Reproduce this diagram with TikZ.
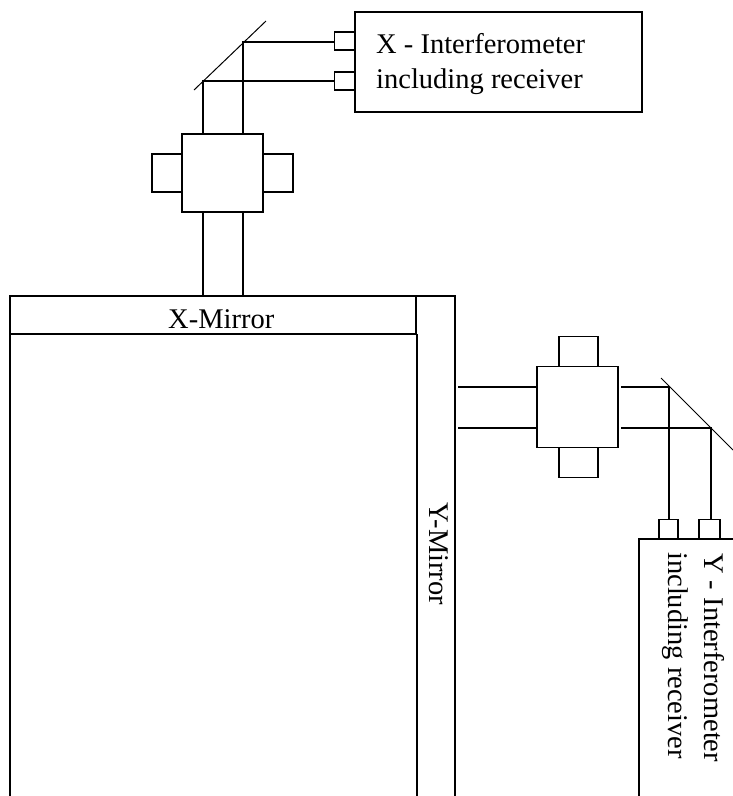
\documentclass[tikz,border=0pt]{standalone}
\usepackage{fontspec}
\setmainfont{Liberation Serif}
\usepackage{tikz}
\usetikzlibrary{positioning,calc}
\tikzset{
  part/.style={draw,line width=1.5pt,fill=white,inner sep=0pt,outer sep=0pt,minimum width=#1},
  part/.default=20pt,
  beam/.style={line width=1.5pt},
  mirrorline/.style={line width=1pt},
  caption/.style={inner sep=0pt,anchor=base west,font=\fontsize{28.5}{32}\selectfont}
}
\begin{document}
\begin{tikzpicture}[x=1pt,y=-1pt]
  \useasboundingbox (0,0) rectangle (733,796);
  \clip (0,0) rectangle (733,796);
  % x arm
  \coordinate (xhitb) at (203,81);
  \coordinate (xhita) at (243,42);
  \coordinate (xtipa) at (194,90);
  \coordinate (xtipb) at (266,21);
  \node[part=287pt,minimum height=100pt] (xbox) at (498.5,62) {};
  \node[part=20pt,minimum height=18pt] (xporta) at (344.5,41) {};
  \node[part=20pt,minimum height=18pt] (xportb) at (344.5,81) {};
  \node[part=81pt,minimum height=78pt] (xcube) at (222.5,173) {};
  \node[part=30pt,minimum height=38pt] (xleft) at (167,173) {};
  \node[part=30pt,minimum height=38pt] (xright) at (278,173) {};
  \draw[mirrorline] (xtipa) -- (xtipb);
  \draw[beam] (xporta.west |- xhita) -- (xhita) -- (xhita |- xcube.north);
  \draw[beam] (xportb.west |- xhitb) -- (xhitb) -- (xhitb |- xcube.north);
  \node[caption] (xname) at (376,53) {X - Interferometer};
  \node[caption] (xrecv) at (376,88) {including receiver};
  % mirrors
  \node[part=406pt,minimum height=38pt] (xmirror) at (213,315) {};
  \node[caption] (xlabel) at (168,328) {X-Mirror};
  \draw[line width=1.5pt] (10,796) -- (xmirror.north west);
  \draw[line width=1.5pt] (xmirror.north east) -- (455,296) -- (455,796);
  \draw[line width=1.5pt] (417,334) -- (417,796);
  \draw[line width=2.2pt] (xmirror.north east) -- (xmirror.south east);
  \node[caption,rotate=-90] (ymirror) at (429,502) {Y-Mirror};
  \draw[beam] (xcube.south -| xhitb) -- (xhitb |- xmirror.north);
  \draw[beam] (xcube.south -| xhita) -- (xhita |- xmirror.north);
  % y arm
  \coordinate (yhita) at (669,387);
  \coordinate (yhitb) at (711,428);
  \coordinate (ytipa) at (661,378);
  \coordinate (ytipb) at (733,450);
  \coordinate (yfeeda) at (458,387);
  \coordinate (yfeedb) at (458,428);
  \coordinate (yexita) at (621,387);
  \coordinate (yexitb) at (621,428);
  \node[part=81pt,minimum height=81pt] (ycube) at (577.5,407) {};
  \node[part=39pt,minimum height=30pt] (ytop) at (578.5,351.5) {};
  \node[part=39pt,minimum height=30pt] (ybottom) at (578.5,462.5) {};
  \node[part=120pt,minimum height=280pt] (ybox) at (699,679) {};
  \node[part=19pt,minimum height=19pt] (yporta) at (668.5,529) {};
  \node[part=21pt,minimum height=19pt] (yportb) at (709.5,529) {};
  \draw[mirrorline] (ytipa) -- (ytipb);
  \draw[beam] (yfeeda) -- (yfeeda -| ycube.west);
  \draw[beam] (yfeedb) -- (yfeedb -| ycube.west);
  \draw[beam] (yexita) -- (yhita) -- (yhita |- yporta.north);
  \draw[beam] (yexitb) -- (yhitb) -- (yhitb |- yportb.north);
  \node[caption,rotate=-90] (yname) at (704,553) {Y - Interferometer};
  \node[caption,rotate=-90] (yrecv) at (668,552) {including receiver};
\end{tikzpicture}
\end{document}
